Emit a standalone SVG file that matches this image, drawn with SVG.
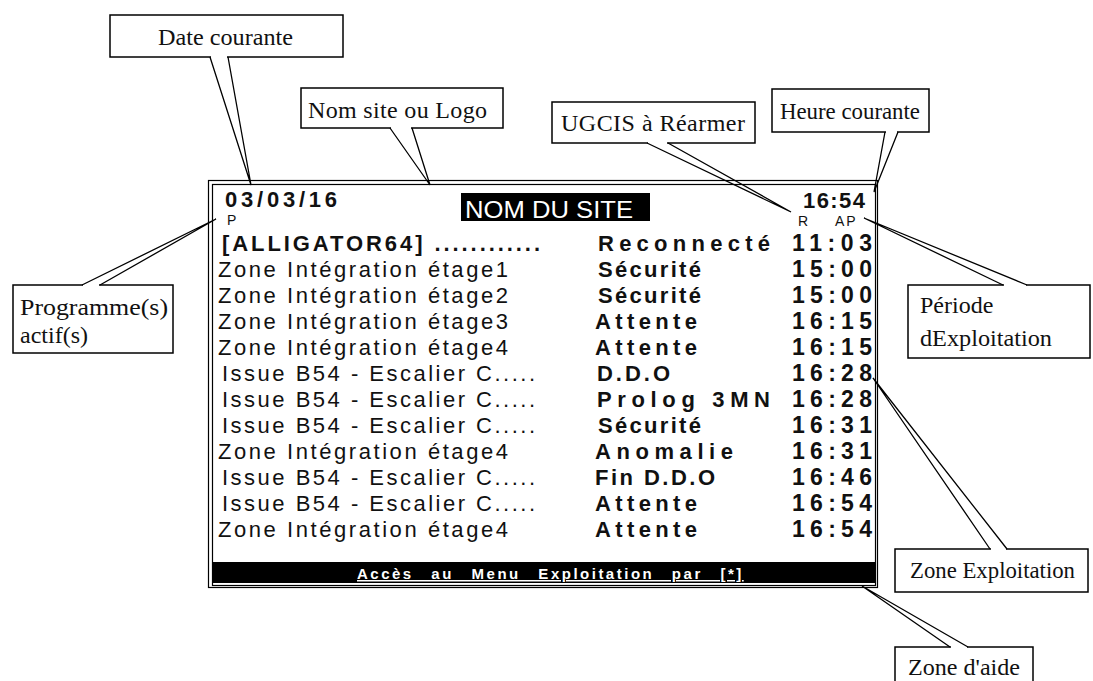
<svg xmlns="http://www.w3.org/2000/svg" width="1093" height="681" viewBox="0 0 1093 681">
<style>
.box{fill:#fff;stroke:#000;stroke-width:1.5}
.lead{fill:none;stroke:#000;stroke-width:1.3}
.gap{stroke:#fff;stroke-width:3}
.cap{font-family:"Liberation Serif","Times New Roman",serif;font-size:24px;fill:#111}
.row{font-family:"Liberation Sans",Arial,sans-serif;font-size:22px;fill:#111}
.t{font-size:23px}
.b{font-weight:bold}
.sm{font-family:"Liberation Sans",Arial,sans-serif;font-size:14px;fill:#111}
.frame{fill:none;stroke:#000;stroke-width:1.2}
</style>
<rect width="1093" height="681" fill="#fff"/>

<g id="screen">
  <rect class="frame" x="208.5" y="180.5" width="669" height="407"/>
  <rect class="frame" x="212.5" y="184.5" width="663" height="401"/>
  <text class="row b" x="225" y="207" textLength="112" lengthAdjust="spacing">03/03/16</text>
  <text class="sm" x="227" y="225">P</text>
  <rect x="461" y="193" width="189" height="28" fill="#000"/>
  <text x="465" y="218" font-family="Liberation Sans, Arial, sans-serif" font-size="24" fill="#fff" textLength="168" lengthAdjust="spacingAndGlyphs">NOM DU SITE</text>
  <text class="row b" x="803" y="208" textLength="62" lengthAdjust="spacing">16:54</text>
  <text class="sm" x="798" y="226">R</text>
  <text class="sm" x="835" y="226" letter-spacing="2">AP</text>

  <text class="row b" x="222" y="251" textLength="318" lengthAdjust="spacing">[ALLIGATOR64] ............</text>
  <text class="row b" x="598" y="251" textLength="172" lengthAdjust="spacing">Reconnecté</text>
  <text class="row b t" x="792" y="251" textLength="80" lengthAdjust="spacing">11:03</text>

  <text class="row" x="218" y="277" textLength="290" lengthAdjust="spacing">Zone Intégration étage1</text>
  <text class="row b" x="598" y="277" textLength="103" lengthAdjust="spacing">Sécurité</text>
  <text class="row b t" x="792" y="277" textLength="80" lengthAdjust="spacing">15:00</text>

  <text class="row" x="218" y="303" textLength="290" lengthAdjust="spacing">Zone Intégration étage2</text>
  <text class="row b" x="598" y="303" textLength="103" lengthAdjust="spacing">Sécurité</text>
  <text class="row b t" x="792" y="303" textLength="80" lengthAdjust="spacing">15:00</text>

  <text class="row" x="218" y="329" textLength="290" lengthAdjust="spacing">Zone Intégration étage3</text>
  <text class="row b" x="595" y="329" textLength="102" lengthAdjust="spacing">Attente</text>
  <text class="row b t" x="792" y="329" textLength="80" lengthAdjust="spacing">16:15</text>

  <text class="row" x="218" y="355" textLength="290" lengthAdjust="spacing">Zone Intégration étage4</text>
  <text class="row b" x="595" y="355" textLength="102" lengthAdjust="spacing">Attente</text>
  <text class="row b t" x="792" y="355" textLength="80" lengthAdjust="spacing">16:15</text>

  <text class="row" x="222" y="381" textLength="313" lengthAdjust="spacing">Issue B54 - Escalier C.....</text>
  <text class="row b" x="597" y="381" textLength="73" lengthAdjust="spacing">D.D.O</text>
  <text class="row b t" x="792" y="381" textLength="80" lengthAdjust="spacing">16:28</text>

  <text class="row" x="222" y="407" textLength="313" lengthAdjust="spacing">Issue B54 - Escalier C.....</text>
  <text class="row b" x="597" y="407" textLength="173" lengthAdjust="spacing">Prolog 3MN</text>
  <text class="row b t" x="792" y="407" textLength="80" lengthAdjust="spacing">16:28</text>

  <text class="row" x="222" y="433" textLength="313" lengthAdjust="spacing">Issue B54 - Escalier C.....</text>
  <text class="row b" x="598" y="433" textLength="103" lengthAdjust="spacing">Sécurité</text>
  <text class="row b t" x="792" y="433" textLength="80" lengthAdjust="spacing">16:31</text>

  <text class="row" x="218" y="459" textLength="290" lengthAdjust="spacing">Zone Intégration étage4</text>
  <text class="row b" x="595" y="459" textLength="138" lengthAdjust="spacing">Anomalie</text>
  <text class="row b t" x="792" y="459" textLength="80" lengthAdjust="spacing">16:31</text>

  <text class="row" x="222" y="485" textLength="313" lengthAdjust="spacing">Issue B54 - Escalier C.....</text>
  <text class="row b" x="595" y="485" textLength="120" lengthAdjust="spacing">Fin D.D.O</text>
  <text class="row b t" x="792" y="485" textLength="80" lengthAdjust="spacing">16:46</text>

  <text class="row" x="222" y="511" textLength="313" lengthAdjust="spacing">Issue B54 - Escalier C.....</text>
  <text class="row b" x="595" y="511" textLength="102" lengthAdjust="spacing">Attente</text>
  <text class="row b t" x="792" y="511" textLength="80" lengthAdjust="spacing">16:54</text>

  <text class="row" x="218" y="537" textLength="290" lengthAdjust="spacing">Zone Intégration étage4</text>
  <text class="row b" x="595" y="537" textLength="102" lengthAdjust="spacing">Attente</text>
  <text class="row b t" x="792" y="537" textLength="80" lengthAdjust="spacing">16:54</text>

  <rect x="212" y="562" width="664" height="21" fill="#000"/>
  <text x="357" y="579" font-family="Liberation Sans, Arial, sans-serif" font-size="15" font-weight="bold" fill="#fff" text-decoration="underline" letter-spacing="2.5" word-spacing="11">Accès au Menu Exploitation par [*]</text>
</g>

<g id="date-courante">
  <rect class="box" x="110" y="15" width="233" height="42"/>
  <text class="cap" x="158" y="45" textLength="135" lengthAdjust="spacingAndGlyphs">Date courante</text>
</g>
<g id="nom-site">
  <rect class="box" x="301" y="88" width="202" height="40"/>
  <text class="cap" x="308" y="118" textLength="179" lengthAdjust="spacing">Nom site ou Logo</text>
</g>
<g id="ugcis">
  <rect class="box" x="552" y="102" width="203" height="41"/>
  <text class="cap" x="561" y="131" textLength="184" lengthAdjust="spacing">UGCIS à Réarmer</text>
</g>
<g id="heure-courante">
  <rect class="box" x="772" y="89" width="157" height="43"/>
  <text class="cap" x="850" y="119" text-anchor="middle" textLength="140" lengthAdjust="spacingAndGlyphs">Heure courante</text>
</g>
<g id="programmes">
  <rect class="box" x="13" y="285" width="160" height="68"/>
  <text class="cap" x="20" y="315" textLength="148" lengthAdjust="spacingAndGlyphs">Programme(s)</text>
  <text class="cap" x="20" y="343">actif(s)</text>
</g>
<g id="periode">
  <rect class="box" x="908" y="285" width="182" height="73"/>
  <text class="cap" x="920" y="313">Période</text>
  <text class="cap" x="920" y="346" textLength="132" lengthAdjust="spacingAndGlyphs">dExploitation</text>
</g>
<g id="zone-exploitation">
  <rect class="box" x="895" y="549" width="193" height="43"/>
  <text class="cap" x="910" y="578" textLength="165" lengthAdjust="spacingAndGlyphs">Zone Exploitation</text>
</g>
<g id="zone-aide">
  <rect class="box" x="895" y="647" width="138" height="45"/>
  <text class="cap" x="908" y="675" textLength="112" lengthAdjust="spacingAndGlyphs">Zone d'aide</text>
</g>

<g id="connectors">
  <line class="gap" x1="211" y1="57" x2="227" y2="57"/>
  <path class="lead" d="M210 57 L251 185 L228 57"/>
  <line class="gap" x1="391" y1="128" x2="411" y2="128"/>
  <path class="lead" d="M390 128 L430 185 L412 128"/>
  <line class="gap" x1="648" y1="143" x2="667" y2="143"/>
  <path class="lead" d="M647 143 L791 212 L668 143"/>
  <line class="gap" x1="886" y1="132" x2="897" y2="132"/>
  <path class="lead" d="M885 132 L874 192 L898 132"/>
  <line class="gap" x1="83" y1="285" x2="99" y2="285"/>
  <path class="lead" d="M82 285 L216 219 L100 285"/>
  <line class="gap" x1="1004" y1="285" x2="1026" y2="285"/>
  <path class="lead" d="M1003 285 L864 218 L1027 285"/>
  <line class="gap" x1="991" y1="549" x2="1006" y2="549"/>
  <path class="lead" d="M990 549 L873 378 L1007 549"/>
  <line class="gap" x1="951" y1="647" x2="967" y2="647"/>
  <path class="lead" d="M950 647 L862 586 L968 647"/>
</g>
</svg>
